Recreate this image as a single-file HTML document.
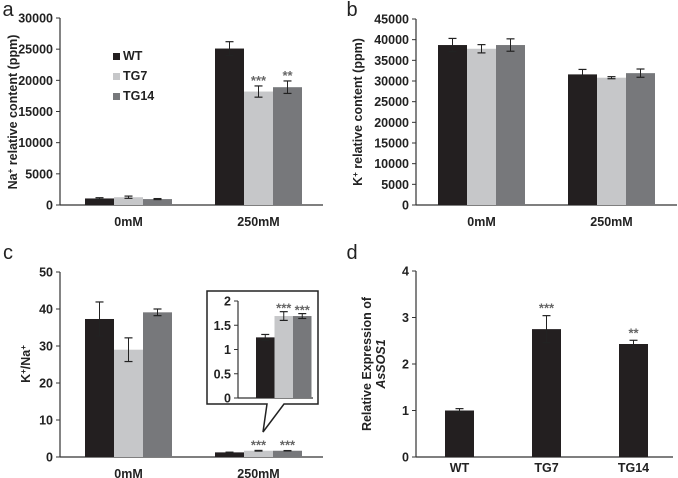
<!DOCTYPE html>
<html><head><meta charset="utf-8"><style>
html,body{margin:0;padding:0;background:#fff;}
svg{display:block;font-family:"Liberation Sans",Arial,sans-serif;}
.tk{font-size:12.5px;font-weight:bold;fill:#222;}
.pl{font-size:20px;fill:#222;}
.yt{font-size:12.5px;font-weight:bold;fill:#222;}
.st{font-size:13px;fill:#666;font-weight:bold;}
</style></head><body>
<svg id="fig" width="678" height="478" viewBox="0 0 678 478" xmlns="http://www.w3.org/2000/svg"></svg>
<script>
const groups=["0mM","250mM"];
const series=["WT","TG7","TG14"];
const colors=["#231f20","#c6c7c9","#77787b"];
const naVals=[[1050,1250,950],[25100,18200,18900]];
const naErr=[[120,180,80],[1100,900,1000]];
const naSig=[["","",""],["","***","**"]];
const naTicks=[0,5000,10000,15000,20000,25000,30000];
const kVals=[[38700,37800,38700],[31600,30800,31900]];
const kErr=[[1600,1000,1500],[1200,250,1000]];
const kTicks=[0,5000,10000,15000,20000,25000,30000,35000,40000,45000];
const rVals=[[37.3,29.0,39.1],[1.25,1.69,1.69]];
const rErr=[[4.6,3.2,0.9],[0.06,0.09,0.05]];
const rSig=[["","",""],["","***","***"]];
const rTicks=[0,10,20,30,40,50];
const inTicks=[0,0.5,1,1.5,2];
const dCats=["WT","TG7","TG14"];
const dVals=[1.0,2.75,2.43];
const dErr=[0.04,0.29,0.08];
const dSig=["","***","**"];
const dTicks=[0,1,2,3,4];

const S=document.getElementById('fig');
const NS="http://www.w3.org/2000/svg";
function mk(tag,attrs,txt){const e=document.createElementNS(NS,tag);for(const k in attrs)e.setAttribute(k,attrs[k]);if(txt!==undefined)e.textContent=txt;S.appendChild(e);return e;}

function axes(ax,ticks,fmt,name){
  const y=v=>ax.y0-(v-ticks[0])/(ticks[ticks.length-1]-ticks[0])*(ax.y0-ax.y1);
  let e=mk('line',{x1:ax.x,y1:ax.y1,x2:ax.x,y2:ax.y0,stroke:'#333','stroke-width':1.2});
  
  e=mk('line',{x1:ax.x,y1:ax.y0,x2:ax.xe,y2:ax.y0,stroke:'#333','stroke-width':1.2});
  
  ticks.forEach(t=>{
    const yy=y(t);
    mk('line',{x1:ax.x-4,y1:yy,x2:ax.x,y2:yy,stroke:'#333','stroke-width':1});
    e=mk('text',{x:ax.x-7,y:yy+4.5,'text-anchor':'end',class:'tk'},fmt?fmt(t):t);
    
  });
  return y;
}
function bar(x,w,yv,y0,c,name){const e=mk('rect',{x:x,y:yv,width:w,height:y0-yv,fill:c});return e;}
function err(cx,yt,yb){mk('line',{x1:cx,y1:yt,x2:cx,y2:yb,stroke:'#222','stroke-width':1});mk('line',{x1:cx-4,y1:yt,x2:cx+4,y2:yt,stroke:'#222','stroke-width':1.2});mk('line',{x1:cx-4,y1:yb,x2:cx+4,y2:yb,stroke:'#222','stroke-width':1.2});}

function grouped(ax,ticks,vals,errs,sig,name,gstarts,bw){
  const y=axes(ax,ticks,null,name);
  vals.forEach((g,gi)=>{
    g.forEach((v,si)=>{
      const x=gstarts[gi]+si*bw;
      bar(x,bw,y(v),ax.y0,colors[si],name+'-bar-'+groups[gi]+'-'+series[si]);
      err(x+bw/2,y(v+errs[gi][si]),y(v-errs[gi][si]));
      if(sig&&sig[gi][si]){const t=mk('text',{x:x+bw/2,y:y(v+errs[gi][si])-1,'text-anchor':'middle',class:'st'},sig[gi][si]);}
    });
    const t=mk('text',{x:gstarts[gi]+1.5*bw,y:ax.y0+21,'text-anchor':'middle',class:'tk'},groups[gi]);
    
  });
  return y;
}
function label(x,y,t,cls,rot,name){const a={x:x,y:y,'text-anchor':'middle',class:cls};if(rot)a.transform='rotate(-90 '+x+' '+y+')';const e=mk('text',a,'');e.innerHTML=t;return e;}

// Panel a
label(8,16,'a','pl',false,'panel-a-label');
grouped({x:60,xe:323,y0:205,y1:18},naTicks,naVals,naErr,naSig,'panel-a',[85,215],29);
label(17,112,'Na<tspan baseline-shift="super" font-size="8">+</tspan> relative content (ppm)','yt',true,'panel-a-y-title');
series.forEach((s,i)=>{
  const r=mk('rect',{x:113,y:60+i*20-7,width:7,height:7,fill:colors[i]});
  
  const t=mk('text',{x:123,y:60+i*20,class:'tk'},s);
  
});

// Panel b
label(352,16,'b','pl',false,'panel-b-label');
grouped({x:416,xe:677,y0:205,y1:19},kTicks,kVals,kErr,null,'panel-b',[438,568],29);
label(362,112,'K<tspan baseline-shift="super" font-size="8">+</tspan> relative content (ppm)','yt',true,'panel-b-y-title');

// Panel c
label(8,259,'c','pl',false,'panel-c-label');
grouped({x:60,xe:323,y0:457,y1:272},rTicks,rVals,rErr,rSig,'panel-c',[85,215],29);
label(30,364,'K<tspan baseline-shift="super" font-size="8">+</tspan>/Na<tspan baseline-shift="super" font-size="8">+</tspan>','yt',true,'panel-c-y-title');
// inset
let p=mk('path',{d:'M207,291 H318 V404 H284 L263,432 L267,404 H207 Z',fill:'#fff',stroke:'#222','stroke-width':1.5});

const yi=axes({x:238,xe:313,y0:398,y1:301},inTicks,null,'inset');
rVals[1].forEach((v,si)=>{
  const x=256+si*18.5;
  bar(x,18.5,yi(v),398,colors[si],'inset-bar-'+series[si]);
  err(x+9.25,yi(v+rErr[1][si]),yi(v-rErr[1][si]));
  if(rSig[1][si]){const t=mk('text',{x:x+9.25,y:yi(v+rErr[1][si])+1,'text-anchor':'middle',class:'st'},rSig[1][si]);}
});

// Panel d
label(352,259,'d','pl',false,'panel-d-label');
const yd=axes({x:416,xe:673,y0:457,y1:271},dTicks,null,'panel-d');
const dStart=[445,532,619];
dVals.forEach((v,i)=>{
  bar(dStart[i],29,yd(v),457,colors[0],'panel-d-bar-'+dCats[i]);
  err(dStart[i]+14.5,yd(v+dErr[i]),yd(v-dErr[i]));
  if(dSig[i]){const t=mk('text',{x:dStart[i]+14.5,y:yd(v+dErr[i])-3,'text-anchor':'middle',class:'st'},dSig[i]);}
  const t=mk('text',{x:dStart[i]+14.5,y:478-6,'text-anchor':'middle',class:'tk'},dCats[i]);
  
});
label(371,364,'Relative Expression of','yt',true,'panel-d-y-title');
label(385,364,'<tspan font-style="italic">AsSOS1</tspan>','yt',true,'panel-d-y-title-gene');
</script>
</body></html>
